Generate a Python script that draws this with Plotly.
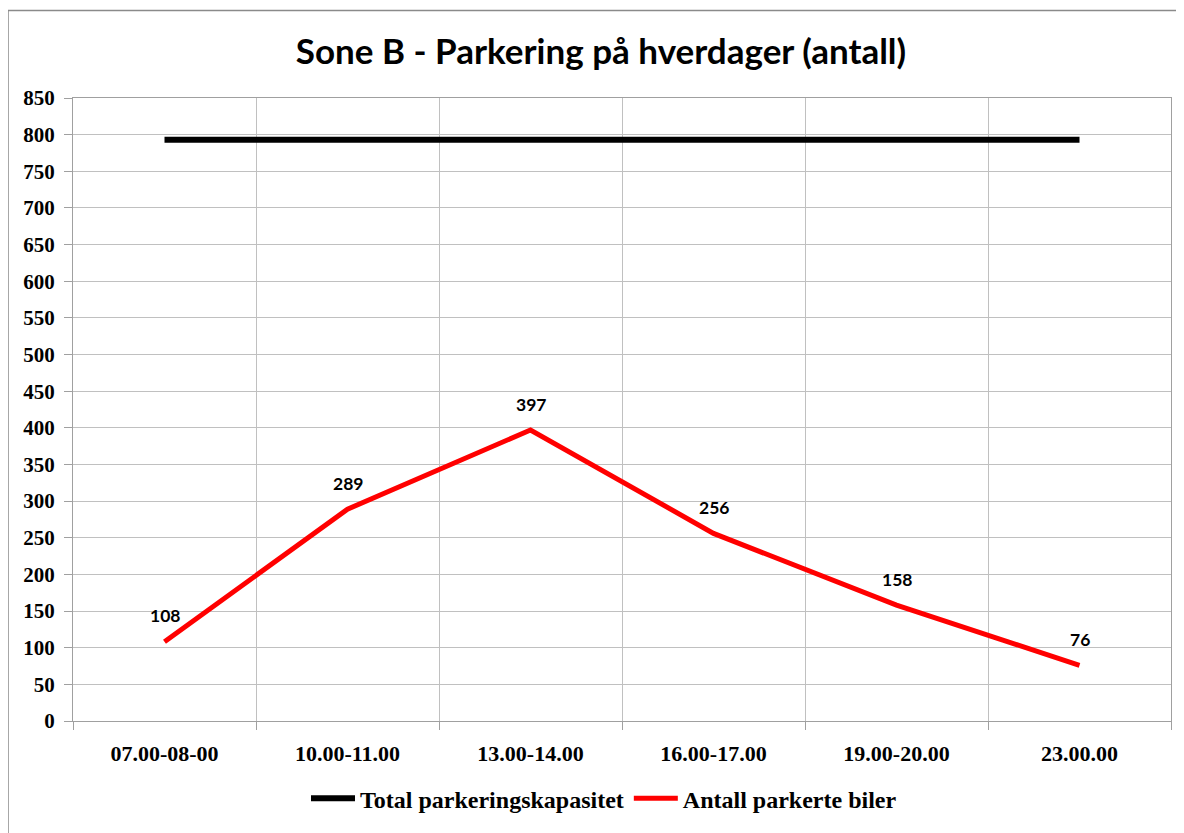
import plotly.graph_objects as go

categories = ["07.00-08-00", "10.00-11.00", "13.00-14.00", "16.00-17.00", "19.00-20.00", "23.00.00"]
capacity = [793, 793, 793, 793, 793, 793]
parked = [108, 289, 397, 256, 158, 76]
y_ticks = list(range(0, 851, 50))

title_text = "Sone B - Parkering på hverdager (antall)"
name_capacity = "Total parkeringskapasitet"
name_parked = "Antall parkerte biler"

serif = "Liberation Serif"
sans = "Lato"

# page body has an 8px margin; work in reference pixel coords minus offset
OFF = 8
W, H = 1184 - OFF, 833 - OFF
L = 73 - OFF
T = 98 - OFF
R = W - (1171 - OFF)
B = H - (724 - OFF)
pw, ph = W - L - R, H - T - B

def px_to_paper_x(px):
    return (px - OFF - L) / pw

def px_to_paper_y(py):
    return (H - B - (py - OFF)) / ph

fig = go.Figure()
fig.add_trace(go.Scatter(
    x=categories, y=capacity, mode="lines", name=name_capacity,
    line=dict(color="#000000", width=6), hoverinfo="skip",
))
fig.add_trace(go.Scatter(
    x=categories, y=parked, mode="lines", name=name_parked,
    line=dict(color="#ff0000", width=5), hoverinfo="skip",
))

for c, v in zip(categories, parked):
    fig.add_annotation(
        x=c, y=v, text=str(v), showarrow=False, yshift=26,
        font=dict(family=sans, size=17.5, color="#000000", weight="bold"),
    )

fig.add_shape(
    type="rect", xref="paper", yref="paper",
    x0=px_to_paper_x(8), x1=px_to_paper_x(1200),
    y0=px_to_paper_y(860), y1=px_to_paper_y(10),
    line=dict(color="#8a8a8a", width=1.5), fillcolor="rgba(0,0,0,0)", layer="below",
)

fig.update_layout(
    width=W, height=H,
    margin=dict(l=L, r=R, t=T, b=B),
    paper_bgcolor="white", plot_bgcolor="white",
    title=dict(
        text=title_text, x=(601 - OFF) / W, xref="container", xanchor="center",
        y=1 - (52 - OFF) / H, yref="container", yanchor="middle",
        font=dict(family=sans, size=35, color="#000000", weight="bold"),
    ),
    showlegend=True,
    legend=dict(
        orientation="h", x=px_to_paper_x(604), xanchor="center",
        y=px_to_paper_y(802), yanchor="middle",
        font=dict(family=serif, size=24, color="#000000", weight="bold"),
        itemwidth=44, tracegroupgap=0, bgcolor="rgba(0,0,0,0)",
    ),
)

fig.update_xaxes(
    type="category", tickson="boundaries", range=[-0.5, 5.5],
    showgrid=True, gridcolor="#c0c0c0", gridwidth=1,
    ticks="outside", ticklen=8, tickcolor="#a0a0a0",
    showline=True, linecolor="#a0a0a0", linewidth=1, mirror=True,
    tickfont=dict(family=serif, size=22, color="#000000", weight="bold"),
    ticklabelstandoff=13,
    zeroline=False, fixedrange=True,
)
fig.update_yaxes(
    range=[0, 850], tickvals=y_ticks,
    showgrid=True, gridcolor="#c0c0c0", gridwidth=1,
    ticks="outside", ticklen=8, tickcolor="#a0a0a0",
    showline=True, linecolor="#a0a0a0", linewidth=1, mirror=True,
    tickfont=dict(family=serif, size=21, color="#000000", weight="bold"),
    ticklabelstandoff=5,
    zeroline=False, fixedrange=True,
)

fig.write_html("out.html")
